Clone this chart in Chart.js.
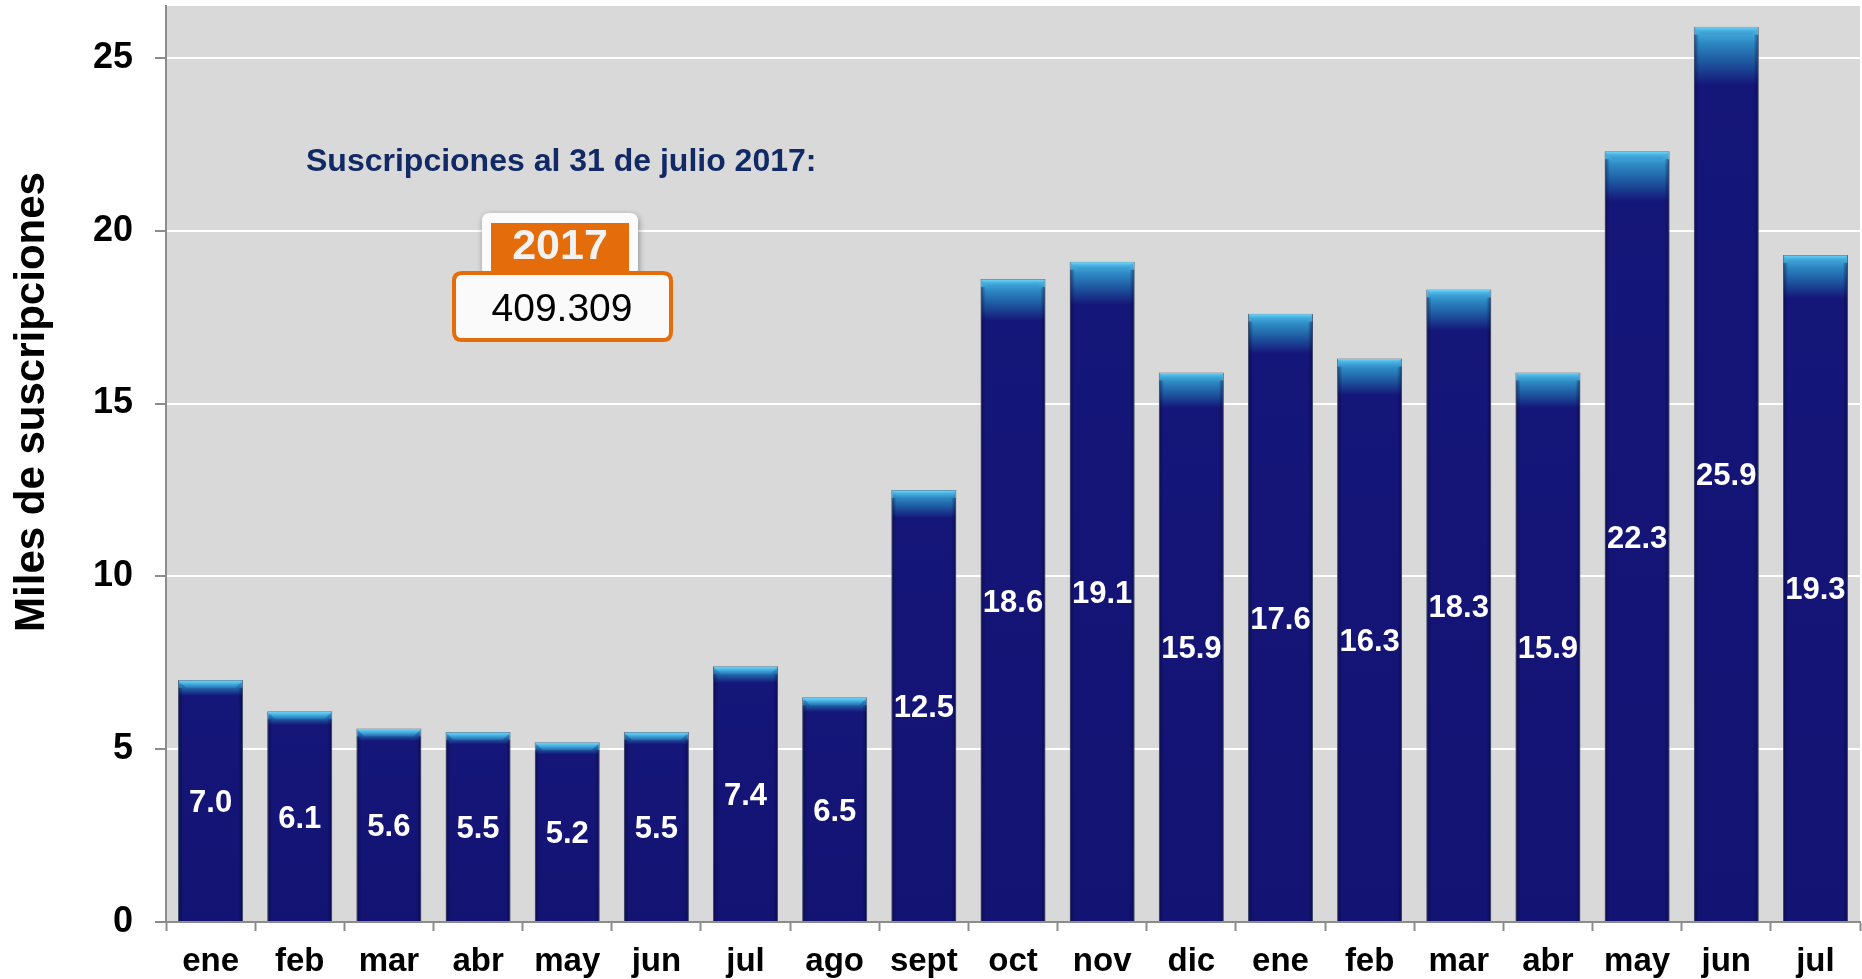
<!DOCTYPE html>
<html>
<head>
<meta charset="utf-8">
<script src="https://cdn.jsdelivr.net/npm/chart.js@4.4.1/dist/chart.umd.min.js"></script>
<style>
html,body{margin:0;padding:0;background:#fff;}
canvas{display:block;}
</style>
</head>
<body>
<canvas id="c" width="1862" height="979"></canvas>
<script>
const categories = ['ene','feb','mar','abr','may','jun','jul','ago','sept','oct','nov','dic','ene','feb','mar','abr','may','jun','jul'];
const values = [7.0, 6.1, 5.6, 5.5, 5.2, 5.5, 7.4, 6.5, 12.5, 18.6, 19.1, 15.9, 17.6, 16.3, 18.3, 15.9, 22.3, 25.9, 19.3];
const yTicks = [0, 5, 10, 15, 20, 25];
const yTitle = 'Miles de suscripciones';
const noteText = 'Suscripciones al 31 de julio 2017:';
const yearText = '2017';
const totalText = '409.309';

const FONT = '"Liberation Sans", Arial, Helvetica, sans-serif';
const NAVY = '#131373';

function barGradient(ctx) {
  const chart = ctx.chart;
  const ys = chart.scales && chart.scales.y;
  if (!ys || !chart.chartArea || ctx.raw == null) return NAVY;
  const top = ys.getPixelForValue(ctx.raw);
  const base = ys.getPixelForValue(0);
  const h = Math.max(1, base - top);
  const cap = Math.max(12, h * 0.065);
  const g = chart.ctx.createLinearGradient(0, top, 0, base);
  const f = v => Math.min(1, Math.max(0, v / h));
  g.addColorStop(0, '#5fcff2');
  g.addColorStop(f(2), '#4db7e5');
  g.addColorStop(f(cap * 0.28), '#2c88c2');
  g.addColorStop(f(cap * 0.6), '#1e58a0');
  g.addColorStop(f(cap), '#151679');
  g.addColorStop(1, NAVY);
  return g;
}

const bgPlugin = {
  id: 'plotBg',
  beforeDraw(chart) {
    const {ctx, chartArea: a} = chart;
    ctx.save();
    ctx.fillStyle = '#d9d9d9';
    ctx.fillRect(a.left, a.top, a.right - a.left, a.bottom - a.top);
    ctx.restore();
  }
};

const barDeco = {
  id: 'barDeco',
  afterDatasetsDraw(chart) {
    const ctx = chart.ctx;
    const meta = chart.getDatasetMeta(0);
    ctx.save();
    meta.data.forEach((el, i) => {
      const p = el.getProps(['x', 'y', 'base', 'width'], true);
      const l = p.x - p.width / 2, r = p.x + p.width / 2;
      const b = 8;
      const sg = ctx.createLinearGradient(l, 0, r, 0);
      sg.addColorStop(0, 'rgba(5,5,50,0.55)');
      sg.addColorStop(0.08, 'rgba(5,5,50,0.0)');
      sg.addColorStop(0.92, 'rgba(5,5,50,0.0)');
      sg.addColorStop(1, 'rgba(5,5,50,0.55)');
      ctx.fillStyle = sg;
      ctx.fillRect(l + 0.5, p.y + b, p.width - 1, p.base - p.y - b);
      const tg = ctx.createLinearGradient(0, p.y, 0, p.y + b);
      tg.addColorStop(0, '#74dcfa');
      tg.addColorStop(0.4, '#4cb6e6');
      tg.addColorStop(1, 'rgba(50,140,200,0.35)');
      ctx.fillStyle = tg;
      ctx.beginPath();
      ctx.moveTo(l + 0.5, p.y + 0.5);
      ctx.lineTo(r - 0.5, p.y + 0.5);
      ctx.lineTo(r - b, p.y + b);
      ctx.lineTo(l + b, p.y + b);
      ctx.closePath();
      ctx.fill();
      ctx.fillStyle = '#ffffff';
      ctx.font = 'bold 31px ' + FONT;
      ctx.textAlign = 'center';
      ctx.textBaseline = 'middle';
      ctx.fillText(values[i].toFixed(1), p.x, (p.y + p.base) / 2 + 3);
    });
    ctx.restore();
  }
};

function roundRect(ctx, x, y, w, h, r) {
  ctx.beginPath();
  ctx.moveTo(x + r, y);
  ctx.lineTo(x + w - r, y);
  ctx.quadraticCurveTo(x + w, y, x + w, y + r);
  ctx.lineTo(x + w, y + h - r);
  ctx.quadraticCurveTo(x + w, y + h, x + w - r, y + h);
  ctx.lineTo(x + r, y + h);
  ctx.quadraticCurveTo(x, y + h, x, y + h - r);
  ctx.lineTo(x, y + r);
  ctx.quadraticCurveTo(x, y, x + r, y);
  ctx.closePath();
}

const annot = {
  id: 'annot',
  afterDraw(chart) {
    const ctx = chart.ctx;
    ctx.save();
    ctx.save();
    ctx.translate(32, 402);
    ctx.rotate(-Math.PI / 2);
    ctx.fillStyle = '#000';
    ctx.font = 'bold 42px ' + FONT;
    ctx.textAlign = 'center';
    ctx.textBaseline = 'middle';
    ctx.fillText(yTitle, 0, 0);
    ctx.restore();

    ctx.fillStyle = '#112a66';
    ctx.font = 'bold 32px ' + FONT;
    ctx.textAlign = 'left';
    ctx.textBaseline = 'middle';
    ctx.fillText(noteText, 306, 162);

    ctx.save();
    ctx.shadowColor = 'rgba(0,0,0,0.35)';
    ctx.shadowBlur = 6;
    ctx.shadowOffsetX = 1;
    ctx.shadowOffsetY = 2;
    ctx.fillStyle = '#fbfbfb';
    roundRect(ctx, 482, 213, 156, 64, 8);
    ctx.fill();
    ctx.restore();
    ctx.fillStyle = '#e46c0a';
    ctx.fillRect(491, 223, 138, 48);
    ctx.fillStyle = '#f2f2f2';
    ctx.font = 'bold 43px ' + FONT;
    ctx.textAlign = 'center';
    ctx.textBaseline = 'middle';
    ctx.fillText(yearText, 560, 247);

    ctx.fillStyle = '#fafafa';
    roundRect(ctx, 454, 273, 217, 67, 8);
    ctx.fill();
    ctx.lineWidth = 4;
    ctx.strokeStyle = '#e46c0a';
    ctx.stroke();
    ctx.fillStyle = '#000';
    ctx.font = '39px ' + FONT;
    ctx.fillText(totalText, 562, 310);
    ctx.restore();
  }
};

new Chart(document.getElementById('c'), {
  type: 'bar',
  data: {
    labels: categories,
    datasets: [{
      data: values,
      backgroundColor: barGradient,
      borderColor: '#56637a',
      borderWidth: 1,
      barPercentage: 0.73,
      categoryPercentage: 1.0
    }]
  },
  options: {
    responsive: false,
    animation: false,
    events: [],
    layout: { padding: { top: 6, right: 2, left: 0, bottom: 0 } },
    plugins: { legend: { display: false }, tooltip: { enabled: false }, title: { display: false } },
    scales: {
      x: {
        grid: { drawOnChartArea: false, drawTicks: true, tickLength: 9, tickColor: '#8c8c8c', tickWidth: 2, offset: true },
        border: { color: '#8c8c8c', width: 2 },
        ticks: { color: '#000', font: { family: FONT, size: 33, weight: 'bold' }, padding: 11, maxRotation: 0, autoSkip: false },
        afterFit(s) { s.height = 57; s.paddingLeft = 0; s.paddingRight = 0; }
      },
      y: {
        min: 0,
        max: 26.5,
        ticks: { stepSize: 5, color: '#000', font: { family: FONT, size: 36, weight: 'bold' }, padding: 22 },
        afterBuildTicks(s) { s.ticks = yTicks.map(v => ({ value: v })); },
        grid: {
          color: c => (c.tick && c.tick.value === 0) ? 'rgba(0,0,0,0)' : '#ffffff',
          lineWidth: 2, tickColor: '#8c8c8c', tickWidth: 2, tickLength: 11, drawTicks: true
        },
        border: { color: '#8c8c8c', width: 2 },
        afterFit(s) { s.width = 166; s.paddingTop = 0; s.paddingBottom = 0; }
      }
    }
  },
  plugins: [bgPlugin, barDeco, annot]
});
</script>
</body>
</html>
